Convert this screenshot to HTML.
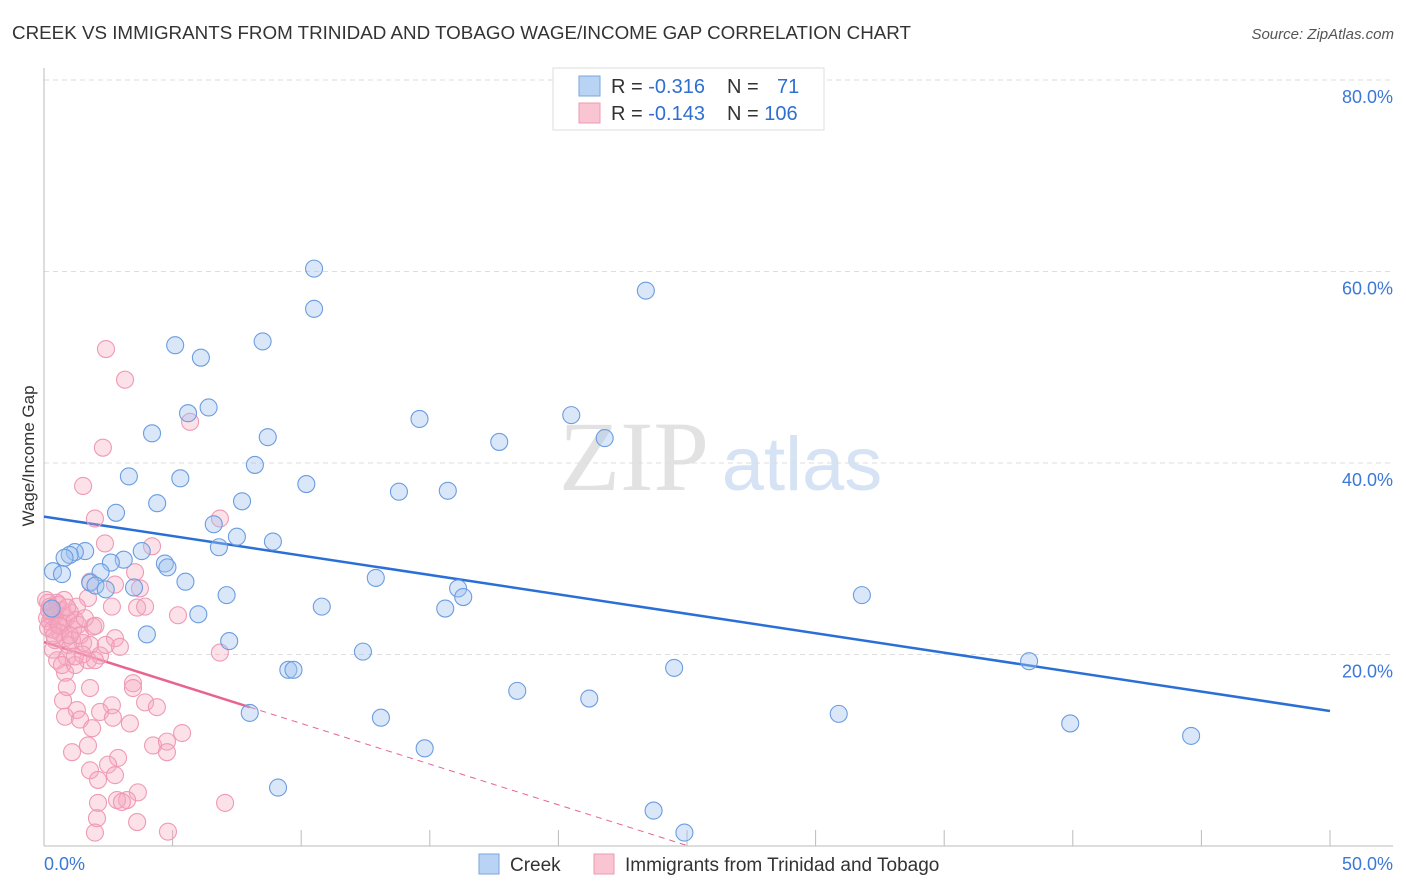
<!DOCTYPE html>
<html><head><meta charset="utf-8"><style>
body{margin:0;background:#fff;font-family:"Liberation Sans",sans-serif;}
svg{display:block}
</style></head><body>
<svg id="chart" width="1406" height="892" xmlns="http://www.w3.org/2000/svg">
<text x="12" y="39" font-size="18" fill="#333" textLength="899" lengthAdjust="spacingAndGlyphs">CREEK VS IMMIGRANTS FROM TRINIDAD AND TOBAGO WAGE/INCOME GAP CORRELATION CHART</text>
<text x="1394" y="39" font-size="15" fill="#555" font-style="italic" text-anchor="end">Source: ZipAtlas.com</text>
<text x="34" y="456" font-size="17" fill="#333" text-anchor="middle" transform="rotate(-90 34 456)">Wage/Income Gap</text>
<g><text x="634" y="490" font-size="100" fill="#e2e2e2" font-family="Liberation Serif,serif" text-anchor="middle">ZIP</text><text x="802" y="490" font-size="76" fill="#d6e3f4" text-anchor="middle">atlas</text></g>
<g id="grid"></g><g id="axes"></g><g id="lines"></g><g id="pts"></g>
<g>
<rect x="553" y="68" width="271" height="62" fill="#fff" stroke="#ddd"/>
<rect x="579" y="76" width="21" height="20" fill="#b8d3f3" stroke="#7aa7e0"/>
<rect x="579" y="103" width="21" height="20" fill="#f9c5d3" stroke="#ee9ab2"/>
<text x="611" y="93" font-size="20" fill="#333">R = <tspan fill="#2f6fd0">-0.316</tspan></text>
<text x="727" y="93" font-size="20" fill="#333">N = <tspan fill="#2f6fd0" x="777">71</tspan></text>
<text x="611" y="120" font-size="20" fill="#333">R = <tspan fill="#2f6fd0">-0.143</tspan></text>
<text x="727" y="120" font-size="20" fill="#333">N = <tspan fill="#2f6fd0">106</tspan></text>
</g>
<g>
<rect x="479" y="854" width="20" height="20" fill="#b8d3f3" stroke="#7aa7e0"/>
<text x="510" y="871" font-size="19" fill="#333">Creek</text>
<rect x="594" y="854" width="20" height="20" fill="#f9c5d3" stroke="#ee9ab2"/>
<text x="625" y="871" font-size="19" fill="#333">Immigrants from Trinidad and Tobago</text>
</g>
<script>
const xTickLabels=["0.0%","50.0%"];
const yTicks=[20,40,60,80];
const blueX=[10.5,10.5,23.4,8.5,5.1,6.1,6.4,5.6,4.2,8.7,14.6,20.5,17.7,21.8,8.2,3.3,5.3,10.2,13.8,15.7,4.4,7.7,2.8,6.6,7.5,8.9,6.8,3.8,1.6,1.2,1.0,0.8,3.1,2.6,0.35,0.7,2.2,4.7,4.8,1.8,2.0,5.5,2.4,3.5,12.9,16.1,16.3,31.8,7.1,6.0,10.8,15.6,4.0,7.2,12.4,9.5,9.7,24.5,38.3,18.4,21.2,8.0,13.1,30.9,39.9,44.6,14.8,9.1,23.7,24.9,0.3];
const blueY=[60.3,56.1,58.0,52.7,52.3,51.0,45.8,45.2,43.1,42.7,44.6,45.0,42.2,42.6,39.8,38.6,38.4,37.8,37.0,37.1,35.8,36.0,34.8,33.6,32.3,31.8,31.2,30.8,30.8,30.7,30.4,30.1,29.9,29.6,28.7,28.4,28.6,29.5,29.1,27.5,27.2,27.6,26.8,27.0,28.0,26.9,26.0,26.2,26.2,24.2,25.0,24.8,22.1,21.4,20.3,18.4,18.4,18.6,19.3,16.2,15.4,13.9,13.4,13.8,12.8,11.5,10.2,6.1,3.7,1.4,24.8];
const pinkX=[2.41,3.15,2.29,1.52,5.68,1.98,6.84,2.37,4.2,3.54,2.76,3.73,1.79,1.71,1.28,2.64,3.62,3.93,5.21,0.51,1.91,2.76,2.95,6.84,0.74,1.13,1.52,0.35,0.89,1.71,0.82,3.46,3.46,1.79,0.89,0.74,3.93,4.39,2.64,2.18,1.28,0.82,1.40,2.68,3.34,1.87,5.37,4.24,4.78,4.78,1.71,1.09,2.88,2.49,1.79,2.76,2.10,3.65,3.23,2.84,3.03,2.10,7.04,2.06,3.62,1.98,4.82,0.08,0.16,0.23,0.31,0.43,0.12,0.23,0.54,0.70,0.86,1.01,1.21,1.32,0.62,0.82,0.93,1.09,0.43,1.40,1.59,0.54,0.78,0.16,0.35,1.79,2.18,1.98,0.51,0.70,1.21,0.3,0.6,1.0,0.2,2.4,1.5,0.9,0.4,1.2,2.0];
const pinkY=[51.9,48.7,41.6,37.6,44.3,34.2,34.2,31.6,31.3,28.6,27.3,26.9,27.6,25.9,25.0,25.0,24.9,25.0,24.1,25.4,22.9,21.7,20.8,20.2,23.3,22.6,21.2,20.5,19.7,19.4,18.1,17.0,16.5,16.5,16.6,15.2,15.0,14.5,14.7,14.0,14.2,13.5,13.2,13.4,12.8,12.3,11.8,10.5,10.9,9.8,10.5,9.8,9.2,8.5,7.9,7.4,6.9,5.6,4.8,4.8,4.6,4.5,4.5,2.9,2.5,1.4,1.5,25.7,25.4,25.0,24.4,24.1,23.8,23.4,23.1,24.6,23.8,24.4,23.6,23.1,22.3,21.7,21.0,21.5,21.5,22.0,23.8,25.2,25.7,22.8,22.6,21.0,19.9,19.4,19.4,18.9,18.9,24.0,23.0,22.0,24.6,21.0,20.0,24.9,22.0,19.8,23.0];
const blueTrend=[34.4,14.1];
const pinkTrend=[21.3,-0.85];
const NS="http://www.w3.org/2000/svg";
const X=v=>44+v/50*1286, Y=v=>846-v/20*191.5;
function mk(p,t,a){const e=document.createElementNS(NS,t);for(const k in a)e.setAttribute(k,a[k]);p.appendChild(e);return e;}
const grid=document.getElementById('grid'),axes=document.getElementById('axes'),lines=document.getElementById('lines'),pts=document.getElementById('pts');
yTicks.forEach(t=>{
 const l=mk(grid,'line',{x1:44,x2:1393,y1:Y(t),y2:Y(t),stroke:'#ddd','stroke-dasharray':'5,4'});
 
 
 const tx=mk(grid,'text',{x:1393,y:Y(t)+23,'font-size':18,fill:'#3b78d8','text-anchor':'end'});tx.textContent=t.toFixed(1)+'%';
 
 
});
mk(axes,'line',{x1:44,x2:44,y1:68,y2:846,stroke:'#bbb'});
mk(axes,'line',{x1:44,x2:1393,y1:846,y2:846,stroke:'#bbb'});
for(let i=1;i<=10;i++){const t=mk(axes,'line',{x1:X(i*5),x2:X(i*5),y1:830,y2:846,stroke:'#bbb'});
 
 }
const xl0=mk(axes,'text',{x:44,y:870,'font-size':18,fill:'#3b78d8'});xl0.textContent=xTickLabels[0];


const xl1=mk(axes,'text',{x:1393,y:870,'font-size':18,fill:'#3b78d8','text-anchor':'end'});xl1.textContent=xTickLabels[1];


pinkX.forEach((x,i)=>{const c=mk(pts,'circle',{cx:X(x),cy:Y(pinkY[i]),r:8.5,fill:'rgba(246,170,192,0.35)',stroke:'#ef9ab4','stroke-width':1.1});
 
 });
blueX.forEach((x,i)=>{const c=mk(pts,'circle',{cx:X(x),cy:Y(blueY[i]),r:8.5,fill:'rgba(160,196,240,0.4)',stroke:'#6b9de0','stroke-width':1.1});
 
 });
const bl=mk(lines,'line',{x1:X(0),y1:Y(blueTrend[0]),x2:X(50),y2:Y(blueTrend[1]),stroke:'#2a6fd6','stroke-width':2.5});


const pe=8, pz=-pinkTrend[0]/pinkTrend[1];
const pl=mk(lines,'line',{x1:X(0),y1:Y(pinkTrend[0]),x2:X(pe),y2:Y(pinkTrend[0]+pinkTrend[1]*pe),stroke:'#e8648e','stroke-width':2.5});


const pd=mk(lines,'line',{x1:X(pe),y1:Y(pinkTrend[0]+pinkTrend[1]*pe),x2:X(pz),y2:Y(0),stroke:'#e8648e','stroke-width':1,'stroke-dasharray':'6,5'});


</script>
</svg>
</body></html>
